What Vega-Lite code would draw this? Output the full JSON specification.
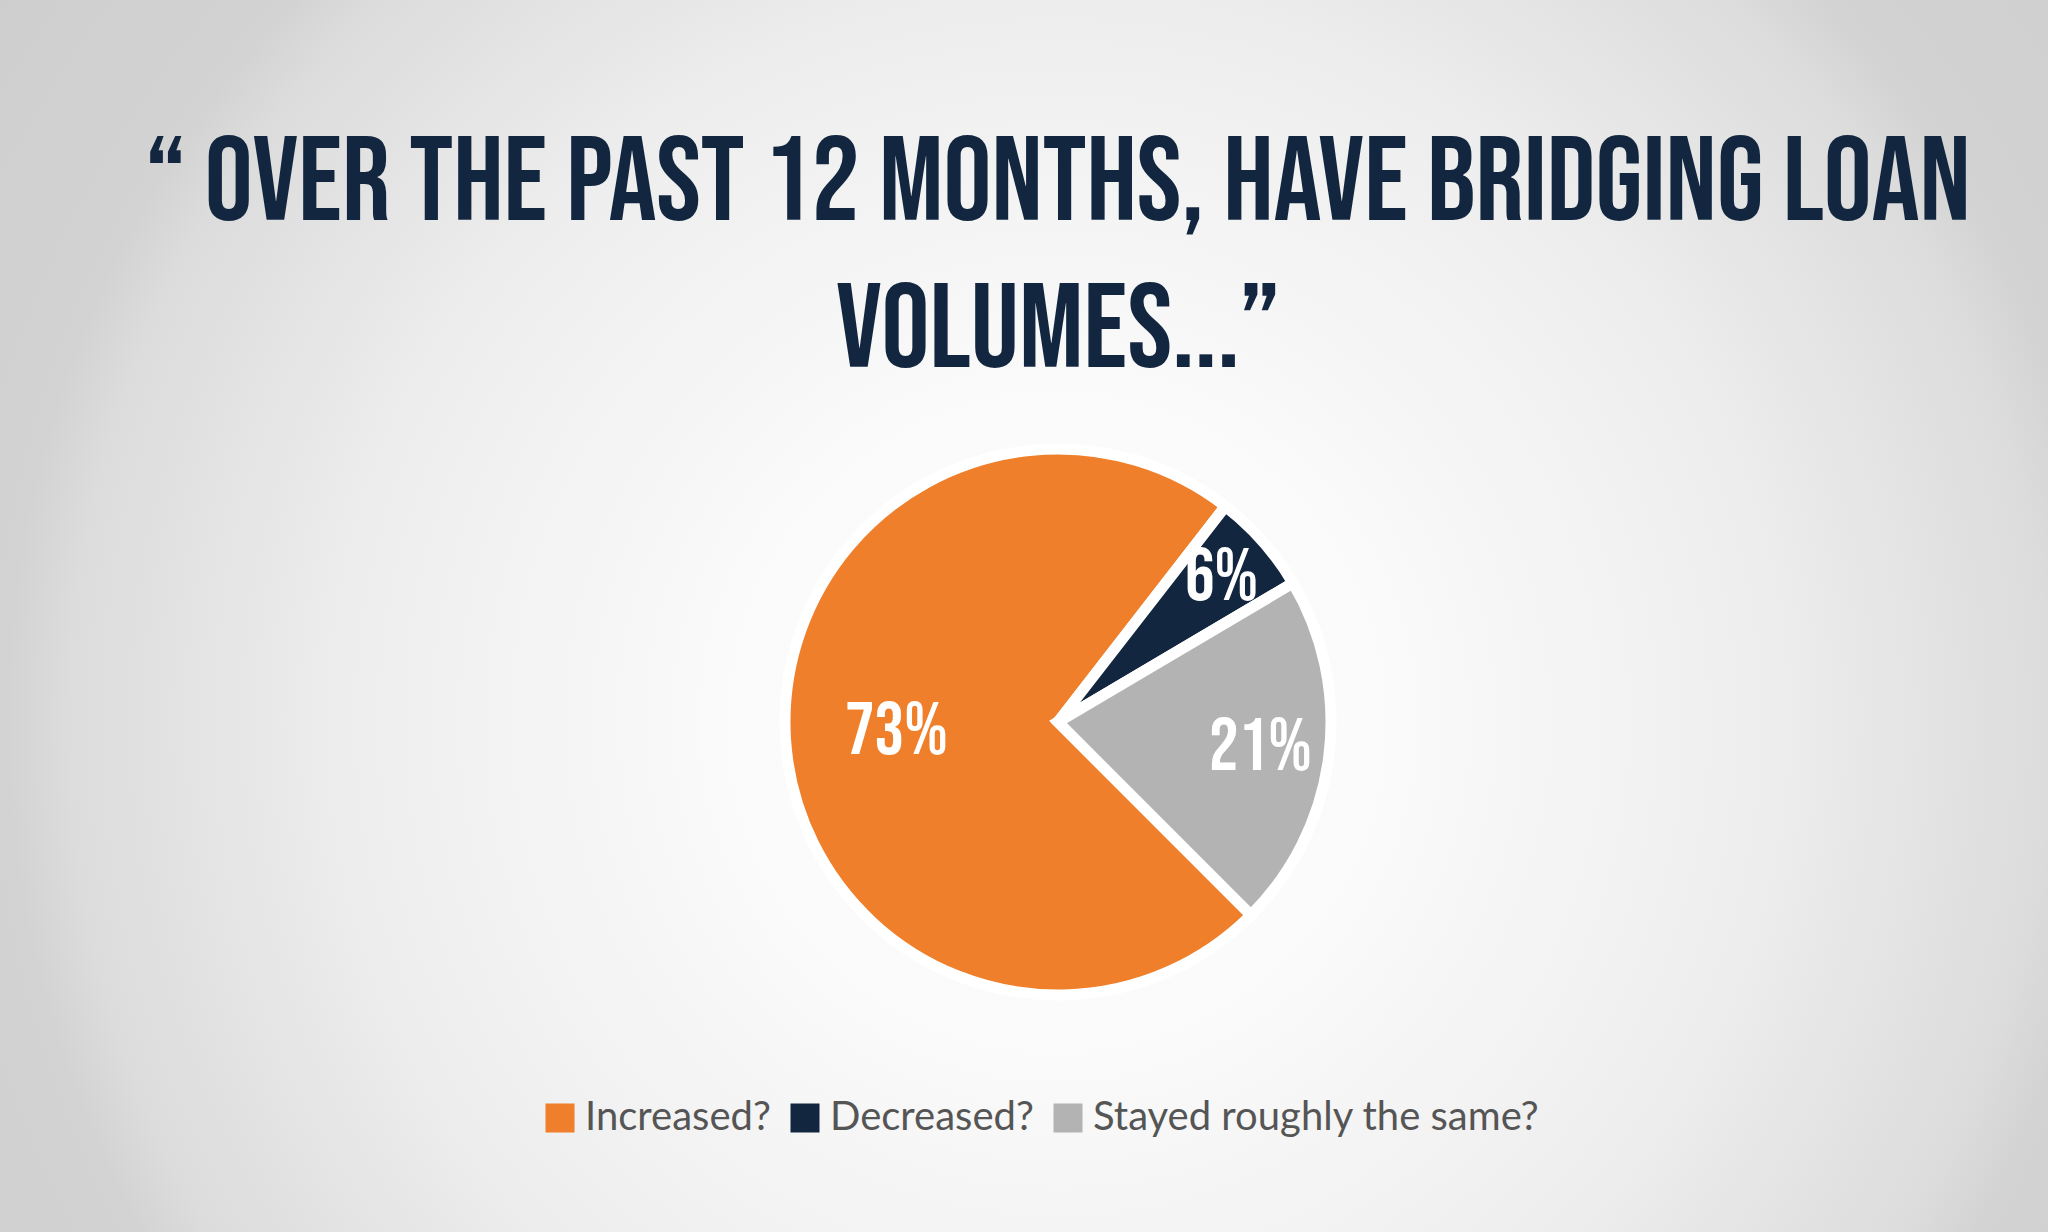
{
  "$schema": "https://vega.github.io/schema/vega-lite/v6.json",
  "width": 2116,
  "height": 1444,
  "autosize": {"type": "none"},
  "padding": {"left": 0, "top": 0, "right": -68, "bottom": -212},
  "background": "#cdcdcd",
  "view": {
    "stroke": null,
    "fill": {
      "gradient": "radial",
      "x1": 0.5, "y1": 0.5, "x2": 0.5, "y2": 0.5,
      "r1": 0, "r2": 0.72,
      "stops": [
        {"offset": 0, "color": "#ffffff"},
        {"offset": 0.22, "color": "#fafafa"},
        {"offset": 0.46, "color": "#eeeeee"},
        {"offset": 0.65, "color": "#dcdcdc"},
        {"offset": 0.69, "color": "#d3d3d3"},
        {"offset": 1, "color": "#c9c9c9"}
      ]
    }
  },
  "title": {
    "text": ["“ OVER THE PAST 12 MONTHS, HAVE BRIDGING LOAN", "VOLUMES...”"],
    "anchor": "middle",
    "frame": "group",
    "orient": "top",
    "offset": -392,
    "font": "Bebas Neue, DejaVu Sans Condensed, sans-serif",
    "fontSize": 120,
    "fontWeight": "normal",
    "color": "#13263f",
    "lineHeight": 147
  },
  "data": {
    "values": [
      {"category": "Increased?", "value": 73, "label": "73%"},
      {"category": "Decreased?", "value": 6, "label": "6%"},
      {"category": "Stayed roughly the same?", "value": 21, "label": "21%"}
    ]
  },
  "encoding": {
    "theta": {"field": "value", "type": "quantitative", "stack": true, "scale": {"range": [0.66, 6.943]}},
    "order": {"field": "value", "type": "quantitative", "sort": "ascending"}
  },
  "layer": [
    {
      "mark": {"type": "arc", "outerRadius": 273, "stroke": "white", "strokeWidth": 11, "strokeJoin": "miter"},
      "encoding": {
        "color": {
          "field": "category",
          "type": "nominal",
          "scale": {
            "domain": ["Increased?", "Decreased?", "Stayed roughly the same?"],
            "range": ["#ef7f2a", "#13263f", "#b3b3b3"]
          },
          "legend": {
            "title": null,
            "orient": "none",
            "direction": "horizontal",
            "legendX": 540,
            "legendY": 1098,
            "symbolType": "square",
            "symbolSize": 841,
            "symbolStrokeWidth": 0,
            "symbolOpacity": 1,
            "labelFont": "Lato",
            "labelFontSize": 40,
            "labelFontWeight": 400,
            "labelColor": "#555555",
            "labelLimit": 700,
            "labelOffset": 5,
            "columnPadding": 14,
            "padding": 0
          }
        }
      }
    },
    {
      "mark": {
        "type": "text",
        "radius": {"expr": "datum.category === 'Increased?' ? 162 : (datum.category === 'Decreased?' ? 218 : 204)"},
        "font": "Bebas Neue, DejaVu Sans Condensed, sans-serif",
        "fontSize": 74,
        "fontWeight": "normal",
        "fill": "white",
        "align": "center",
        "baseline": "middle"
      },
      "encoding": {
        "text": {"field": "label", "type": "nominal"}
      }
    }
  ]
}
